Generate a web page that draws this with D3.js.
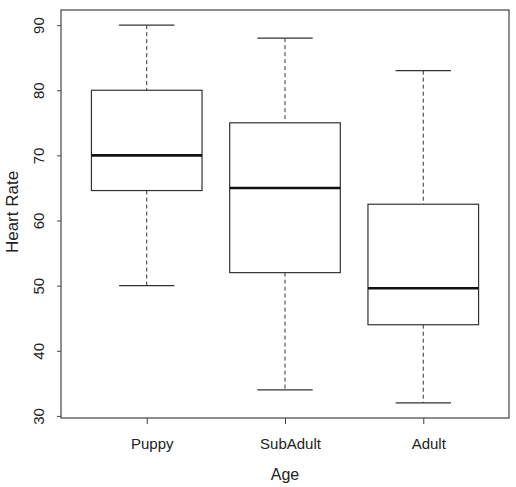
<!DOCTYPE html>
<html>
<head>
<meta charset="utf-8">
<script src="https://cdn.jsdelivr.net/npm/d3@7"></script>
<style>
  body { margin: 0; background: #fff; }
  text { font-family: "Liberation Sans", Arial, sans-serif; fill: #222; }
</style>
</head>
<body>
<div id="chart"></div>
<script>
// values
const groups = ["Puppy", "SubAdult", "Adult"];
const lowWhisker = [50, 34, 32];
const q1 = [64.6, 52, 44];
const medians = [70, 65, 49.6];
const q3 = [80, 75, 62.5];
const highWhisker = [90, 88, 83];
const yTicks = [30, 40, 50, 60, 70, 80, 90];

let width = 516;
let height = 487;
let plotLeft = 61, plotRight = 509, plotTop = 10, plotBottom = 418;

let svg = d3.select("#chart")
    .append("svg")
    .attr("width", width)
    .attr("height", height);

// R style: 4% padding around the data range
let lo = d3.min(lowWhisker), hi = d3.max(highWhisker);
let pad = (hi - lo) * 0.04;
let yScale = d3.scaleLinear()
    .domain([lo - pad, hi + pad])
    .range([plotBottom, plotTop]);

let xScale = d3.scaleLinear()
    .domain([0.5 - 0.12, 3.5 + 0.12])
    .range([plotLeft, plotRight]);

let boxW = xScale(1.8) - xScale(1); // box is 0.8 of a slot
let capW = boxW / 2;

let ink = "#333";

// plot frame
svg.append("rect")
    .attr("x", plotLeft)
    .attr("y", plotTop)
    .attr("width", plotRight - plotLeft)
    .attr("height", plotBottom - plotTop)
    .attr("fill", "none")
    .attr("stroke", "#444")
    .attr("stroke-width", 1.2);

// y axis
let yAxis = svg.append("g")
    .attr("transform", `translate(${plotLeft}, 0)`)
    .call(d3.axisLeft(yScale).tickValues(yTicks).tickSize(4).tickFormat(d3.format("d")));
yAxis.select(".domain").remove();
yAxis.selectAll("line").attr("stroke", "#444");
yAxis.selectAll("text")
    .attr("font-size", "15px")
    .attr("fill", "#222")
    .attr("text-anchor", "middle")
    .attr("x", 0)
    .attr("dy", 0)
    .attr("transform", "translate(-17, 0) rotate(-90)");

// x axis
let xAxis = svg.append("g")
    .attr("transform", `translate(0, ${plotBottom})`)
    .call(d3.axisBottom(xScale).tickValues([1, 2, 3]).tickSize(6).tickFormat((d, i) => groups[i]));
xAxis.select(".domain").remove();
xAxis.selectAll("line").attr("stroke", "#444");
xAxis.selectAll("text")
    .attr("font-size", "15px")
    .attr("fill", "#222")
    .attr("x", 5)
    .attr("y", 31)
    .attr("dy", 0);

// boxes
groups.forEach((g, i) => {
    let cx = xScale(i + 1);
    let b = svg.append("g");

    b.append("line")
        .attr("x1", cx).attr("x2", cx)
        .attr("y1", yScale(highWhisker[i])).attr("y2", yScale(q3[i]))
        .attr("stroke", ink).attr("stroke-dasharray", "4,3");
    b.append("line")
        .attr("x1", cx).attr("x2", cx)
        .attr("y1", yScale(q1[i])).attr("y2", yScale(lowWhisker[i]))
        .attr("stroke", ink).attr("stroke-dasharray", "4,3");

    [highWhisker[i], lowWhisker[i]].forEach(v => {
        b.append("line")
            .attr("x1", cx - capW / 2).attr("x2", cx + capW / 2)
            .attr("y1", yScale(v)).attr("y2", yScale(v))
            .attr("stroke", ink).attr("stroke-width", 1.2);
    });

    b.append("rect")
        .attr("x", cx - boxW / 2)
        .attr("y", yScale(q3[i]))
        .attr("width", boxW)
        .attr("height", yScale(q1[i]) - yScale(q3[i]))
        .attr("fill", "#fff")
        .attr("stroke", ink)
        .attr("stroke-width", 1.2);

    b.append("line")
        .attr("x1", cx - boxW / 2).attr("x2", cx + boxW / 2)
        .attr("y1", yScale(medians[i])).attr("y2", yScale(medians[i]))
        .attr("stroke", "#111").attr("stroke-width", 2.6);
});

// axis titles
svg.append("text")
    .attr("x", (plotLeft + plotRight) / 2)
    .attr("y", 480)
    .attr("text-anchor", "middle")
    .attr("font-size", "16px")
    .text("Age");

svg.append("text")
    .attr("transform", `translate(18, ${(plotTop + plotBottom) / 2 - 2}) rotate(-90)`)
    .attr("text-anchor", "middle")
    .attr("font-size", "17px")
    .text("Heart Rate");
</script>
</body>
</html>
